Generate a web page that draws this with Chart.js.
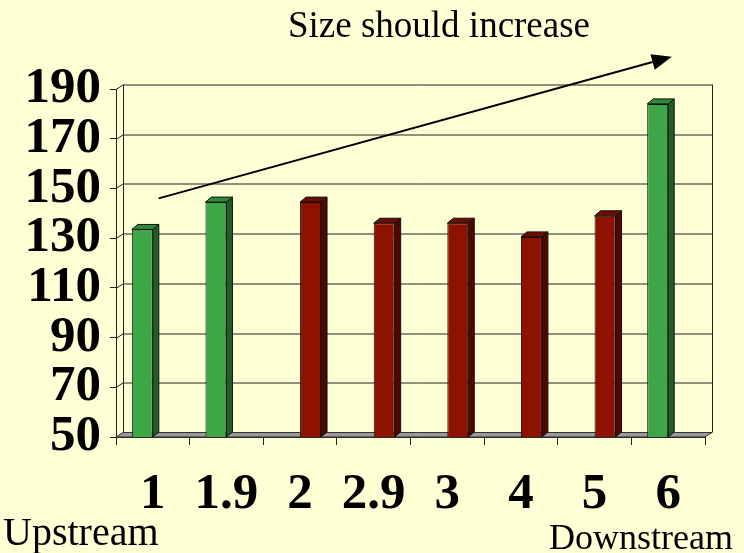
<!DOCTYPE html>
<html>
<head>
<meta charset="utf-8">
<script src="https://cdn.jsdelivr.net/npm/chart.js@4.4.1/dist/chart.umd.min.js"></script>
<style>
  html, body { margin: 0; padding: 0; background: #ffffd6; }
  canvas { display: block; }
</style>
</head>
<body>
<canvas id="sizeChart" width="744" height="553"></canvas>
<script>
// Sampling sites, upstream -> downstream
const sites = ['1', '1.9', '2', '2.9', '3', '4', '5', '6'];
// green sites and red sites are two series sharing the category axis
const greenValues = [133.5, 144.5, null, null, null, null, null, 184];
const redValues = [null, null, 144.5, 136, 136, 130.5, 139, null];
const yTicks = [50, 70, 90, 110, 130, 150, 170, 190];

// arrow annotation in data space (category index, value)
const arrowFrom = { x: 0.08, y: 146 };
const arrowTo = { x: 7.05, y: 203 };

const WALL_DX = 7, WALL_DY = -4.5;   // depth of the back wall
const BAR_DX = 6, BAR_DY = -5;       // depth of each bar

function poly(ctx, pts, fill, stroke) {
    ctx.beginPath();
    ctx.moveTo(pts[0][0], pts[0][1]);
    for (let i = 1; i < pts.length; i++) ctx.lineTo(pts[i][0], pts[i][1]);
    ctx.closePath();
    if (fill) { ctx.fillStyle = fill; ctx.fill(); }
    if (stroke) { ctx.strokeStyle = stroke; ctx.lineWidth = 1; ctx.stroke(); }
}

// back wall, grid, floor, bar depth, annotations
const wallPlugin = {
    id: 'wall',
    beforeDatasetsDraw(chart) {
        const { ctx, chartArea: a, scales } = chart;
        const y = scales.y;
        ctx.save();
        ctx.strokeStyle = '#222';
        ctx.lineWidth = 1;
        yTicks.forEach(v => {
            const py = Math.round(y.getPixelForValue(v)) + 0.5;
            ctx.beginPath();
            ctx.moveTo(a.left, py);
            ctx.lineTo(a.left + WALL_DX, py + WALL_DY);
            if (v !== 50) ctx.lineTo(a.right + WALL_DX, py + WALL_DY);
            ctx.stroke();
        });
        // left and right wall edges
        ctx.beginPath();
        ctx.moveTo(a.left + WALL_DX + 0.5, a.top + WALL_DY);
        ctx.lineTo(a.left + WALL_DX + 0.5, a.bottom + WALL_DY);
        ctx.moveTo(a.right + WALL_DX + 0.5, a.top + WALL_DY);
        ctx.lineTo(a.right + WALL_DX + 0.5, a.bottom + WALL_DY);
        ctx.stroke();
        // floor
        poly(ctx, [
            [a.left, a.bottom], [a.left + WALL_DX, a.bottom + WALL_DY],
            [a.right + WALL_DX, a.bottom + WALL_DY], [a.right, a.bottom]
        ], '#9a9a9a', '#333');
        ctx.restore();
    },
    afterDatasetsDraw(chart) {
        const { ctx, chartArea: a } = chart;
        ctx.save();
        chart.data.datasets.forEach((ds, di) => {
            chart.getDatasetMeta(di).data.forEach((bar, i) => {
                if (ds.data[i] == null) return;
                const l = bar.x - bar.width / 2, r = bar.x + bar.width / 2;
                const t = bar.y, b = Math.min(bar.base, a.bottom);
                poly(ctx, [[r, t], [r + BAR_DX, t + BAR_DY], [r + BAR_DX, b + BAR_DY], [r, b]], ds.sideColor, '#111');
                poly(ctx, [[l, t], [l + BAR_DX, t + BAR_DY], [r + BAR_DX, t + BAR_DY], [r, t]], ds.topColor, '#111');
            });
        });
        ctx.restore();
    },
    afterDraw(chart) {
        const { ctx, scales } = chart;
        ctx.save();
        // arrow
        const x1 = scales.x.getPixelForValue(arrowFrom.x), y1 = scales.y.getPixelForValue(arrowFrom.y);
        const x2 = scales.x.getPixelForValue(arrowTo.x), y2 = scales.y.getPixelForValue(arrowTo.y);
        const ang = Math.atan2(y2 - y1, x2 - x1);
        const hl = 20, hw = 8;
        const bx = x2 - hl * Math.cos(ang), by = y2 - hl * Math.sin(ang);
        ctx.strokeStyle = '#000';
        ctx.lineWidth = 2;
        ctx.beginPath();
        ctx.moveTo(x1, y1);
        ctx.lineTo(bx, by);
        ctx.stroke();
        poly(ctx, [
            [x2, y2],
            [bx + hw * Math.sin(ang), by - hw * Math.cos(ang)],
            [bx - hw * Math.sin(ang), by + hw * Math.cos(ang)]
        ], '#000', null);
        // texts
        ctx.fillStyle = '#000';
        ctx.textBaseline = 'alphabetic';
        ctx.font = '37px "Liberation Serif", "Times New Roman", serif';
        ctx.textAlign = 'center';
        ctx.fillText('Size should increase', 439, 37);
        ctx.font = '40px "Liberation Serif", "Times New Roman", serif';
        ctx.textAlign = 'left';
        ctx.fillText('Upstream', 3, 545);
        ctx.font = '36px "Liberation Serif", "Times New Roman", serif';
        ctx.textAlign = 'right';
        ctx.fillText('Downstream', 733, 549);
        ctx.restore();
    }
};

const ctx = document.getElementById('sizeChart').getContext('2d');
const sizeChart = new Chart(ctx, {
    type: 'bar',
    data: {
        labels: sites,
        datasets: [{
            data: greenValues,
            backgroundColor: '#3ea646',
            borderColor: '#111',
            borderWidth: 1,
            sideColor: '#1f5e24',
            topColor: '#2f8a36',
            categoryPercentage: 0.57,
            barPercentage: 1
        }, {
            data: redValues,
            backgroundColor: '#8e1200',
            borderColor: '#111',
            borderWidth: 1,
            sideColor: '#4f0800',
            topColor: '#6b0d00',
            categoryPercentage: 0.57,
            barPercentage: 1
        }]
    },
    options: {
        responsive: false,
        animation: false,
        layout: { padding: { left: 24, right: 39, top: 89, bottom: 0 } },
        plugins: {
            legend: { display: false },
            tooltip: { enabled: false }
        },
        scales: {
            x: {
                afterFit(scale) { scale.height = 116; },
                grid: { drawOnChartArea: false, drawTicks: true, tickLength: 8, color: '#222' },
                border: { color: '#222' },
                ticks: {
                    autoSkip: false,
                    maxRotation: 0,
                    padding: 19,
                    color: '#000',
                    font: { family: '"Liberation Serif", "Times New Roman", serif', size: 51, weight: 'bold' }
                }
            },
            y: {
                min: 50,
                max: 190,
                afterFit(scale) { scale.width = 92; },
                afterBuildTicks(scale) { scale.ticks = yTicks.map(v => ({ value: v })); },
                grid: { drawOnChartArea: false, drawTicks: true, tickLength: 6, color: '#222' },
                border: { color: '#222' },
                ticks: {
                    autoSkip: false,
                    padding: 9,
                    color: '#000',
                    font: { family: '"Liberation Serif", "Times New Roman", serif', size: 51, weight: 'bold' }
                }
            }
        }
    },
    plugins: [wallPlugin]
});
</script>
</body>
</html>
